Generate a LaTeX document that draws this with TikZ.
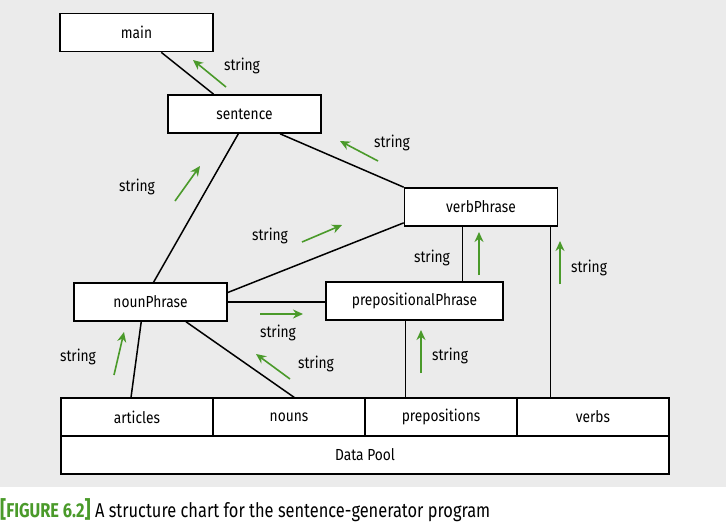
\documentclass[tikz,border=0pt]{standalone}
\usepackage{fontspec}
\usetikzlibrary{positioning,calc,arrows.meta}
\newfontfamily\chartfont[FakeStretch=0.86]{Fira Sans}
\newfontfamily\captfont[FakeStretch=0.82]{Fira Sans}
\definecolor{bggray}{HTML}{EBEBEB}
\definecolor{flowgreen}{HTML}{4A9A2A}
\begin{document}
\begin{tikzpicture}[
    x=1pt, y=-1pt,
    module/.style={draw, fill=white, line width=1.6pt, minimum width=153pt, minimum height=38pt,
        font=\chartfont\fontsize{16}{19}\selectfont},
    pool/.style={module, minimum width=152pt, outer sep=0pt},
    link/.style={line width=1.5pt},
    flow/.style={draw=flowgreen, line width=1.6pt, -{Stealth[length=10pt,width=9pt]}},
    lbl/.style={font=\chartfont\fontsize{16}{19}\selectfont, inner sep=0pt}
]
\useasboundingbox (0,0) rectangle (726,523);
\fill[bggray] (0,0) rectangle (726,487);
\node[module] (main) at (136.5,32.5) {main};
\node[module] (sentence) at (244.5,114) {sentence};
\node[module] (verbPhrase) at (481,207) {verbPhrase};
\node[module] (nounPhrase) at (150.5,302) {nounPhrase};
\node[module, minimum width=177pt] (prepositionalPhrase) at (414.5,301) {prepositionalPhrase};
\node[pool] (articles) at (137,417) {articles};
\node[pool, right=0pt of articles] (nouns) {nouns};
\node[pool, right=0pt of nouns] (prepositions) {prepositions};
\node[pool, right=0pt of prepositions] (verbs) {verbs};
\node[pool, minimum width=608pt, anchor=north west] (dataPool) at (articles.south west) {Data Pool};
\draw[link] ($(main.south west)!0.66!(main.south east)$) -- ($(sentence.north west)!0.3!(sentence.north east)$);
\draw[link] ($(sentence.south west)!0.46!(sentence.south east)$) -- ($(nounPhrase.north west)!0.52!(nounPhrase.north east)$);
\draw[link] ($(sentence.south west)!0.73!(sentence.south east)$) -- (verbPhrase.north west);
\draw[link] ($(nounPhrase.north east)!0.26!(nounPhrase.south east)$) -- ($(verbPhrase.north west)!0.9!(verbPhrase.south west)$);
\draw[link] (nounPhrase.east) -- (nounPhrase.east -| prepositionalPhrase.west);
\draw[link] ($(nounPhrase.south west)!0.44!(nounPhrase.south east)$) -- ($(articles.north west)!0.46!(articles.north east)$);
\draw[link] ($(nounPhrase.south west)!0.73!(nounPhrase.south east)$) -- ($(nouns.north west)!0.54!(nouns.north east)$);
\draw[link] ($(verbPhrase.south west)!0.38!(verbPhrase.south east)$) coordinate (vp1) -- (vp1 |- prepositionalPhrase.north);
\draw[link] ($(verbPhrase.south west)!0.95!(verbPhrase.south east)$) coordinate (vp2) -- (vp2 |- verbs.north);
\draw[link] ($(prepositionalPhrase.south west)!0.45!(prepositionalPhrase.south east)$) coordinate (pp1) -- (pp1 |- prepositions.north);
\foreach \sx/\sy/\ex/\ey in {226/87/193/60, 378/161/340/141, 175/201/200/166, 302/242/342/225,
    479/275/479/232, 560/284/560/241, 421/373/421/330, 260/314/303/314, 290/379/256/354, 114/375/124/332}
    \draw[flow] (\sx,\sy) -- (\ex,\ey);
\foreach \lx/\ly [count=\i] in {242/66, 392/143, 137/187, 270/236, 432/258, 589/268, 450/356, 278/333, 316/364, 78/357}
    \node[lbl] (string\i) at (\lx,\ly) {string};
\node[anchor=base west, inner sep=0pt, font=\captfont\fontsize{20}{24}\selectfont] (caption) at (0,517)
    {\textcolor{flowgreen}{\bfseries{\fontsize{23}{24}\selectfont[}FIGURE 6.2{\fontsize{23}{24}\selectfont]}} A structure chart for the sentence-generator program};
\end{tikzpicture}
\end{document}
